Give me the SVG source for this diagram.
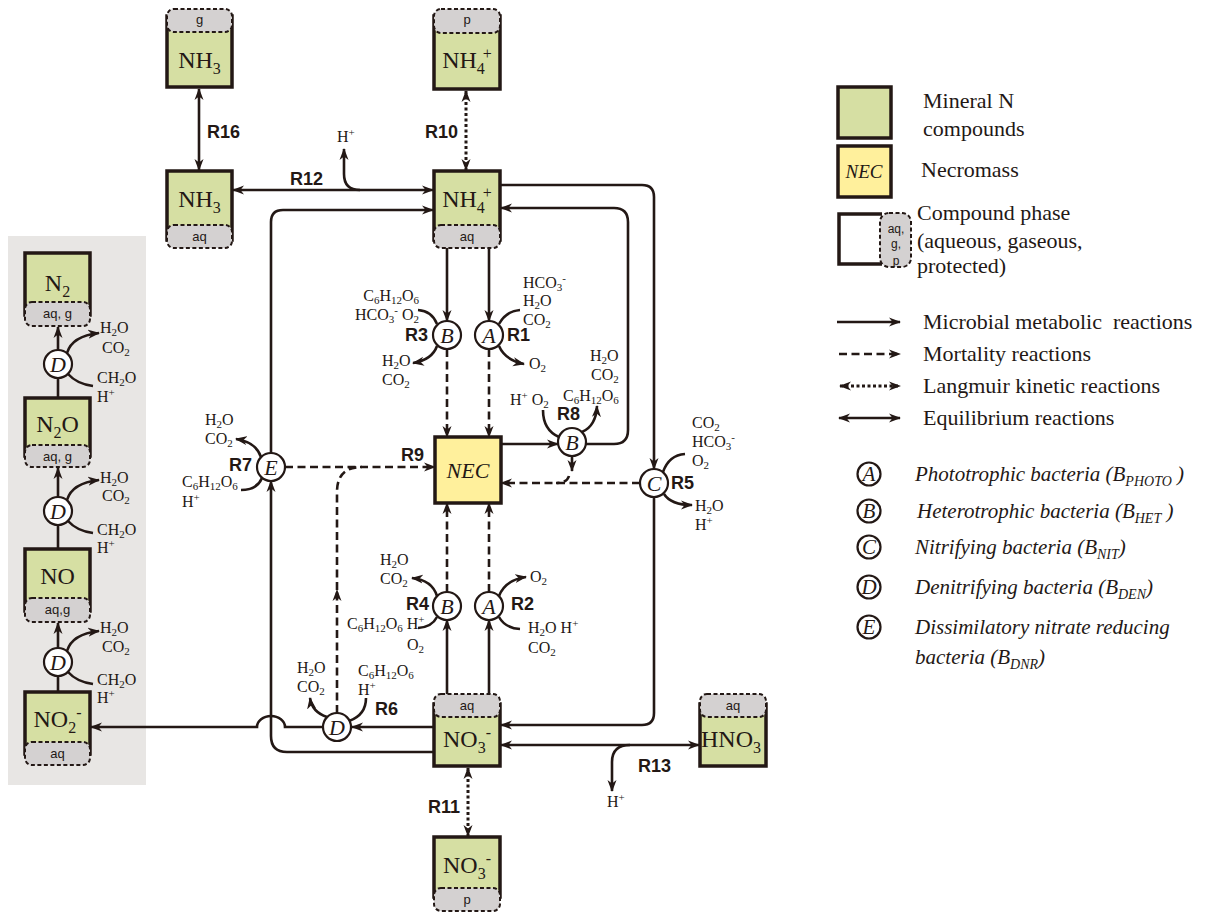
<svg xmlns="http://www.w3.org/2000/svg" width="1211" height="913" viewBox="0 0 1211 913">
<defs>
<style>
.ln{fill:none;stroke:#231815;stroke-width:2.6}
.ds{stroke-dasharray:8 4.5}
.dt{stroke-dasharray:3 2.5;stroke-width:3}
.bx{fill:#d6dfa3;stroke:#231815;stroke-width:3.5}
.nec{fill:#fff09c;stroke:#231815;stroke-width:3.5}
.tab{fill:#d4d1d1;stroke:#231815;stroke-width:2;stroke-dasharray:4 2.5}
.ci{fill:#fff;stroke:#231815;stroke-width:2.2}
text{fill:#231815}
.c{font-family:"Liberation Serif","Times New Roman",serif;font-size:16px}
.cs{font-size:11px;baseline-shift:-3px}
.cp{font-size:11px;baseline-shift:6px}
.b{font-family:"Liberation Serif","Times New Roman",serif;font-size:24px;text-anchor:middle}
.bs{font-size:16px;baseline-shift:-6px}
.bp{font-size:16px;baseline-shift:9px}
.t{font-family:"Liberation Sans",Arial,sans-serif;font-size:13px;text-anchor:middle}
.r{font-family:"Liberation Sans",Arial,sans-serif;font-size:18px;font-weight:bold}
.cl{font-family:"Liberation Serif","Times New Roman",serif;font-style:italic;font-size:22px;text-anchor:middle}
.lg{font-family:"Liberation Serif","Times New Roman",serif;font-size:22px}
.li{font-family:"Liberation Serif","Times New Roman",serif;font-size:21px;font-style:italic}
.ls{font-size:14px;baseline-shift:-5px}
.lc{font-family:"Liberation Serif","Times New Roman",serif;font-style:italic;font-size:21px;text-anchor:middle}
</style>
<marker id="ah" viewBox="0 0 12 10" refX="11" refY="5" markerWidth="12" markerHeight="10" markerUnits="userSpaceOnUse" orient="auto-start-reverse">
<path d="M0,0.5 L12,5 L0,9.5 L3.5,5 z" fill="#231815"/>
</marker>
<clipPath id="tabclip"><rect x="880" y="213" width="31" height="54" rx="9"/></clipPath>
</defs>

<rect id="panel" x="8" y="236" width="138" height="549" fill="#e8e6e4"/>

<g id="connectors">
<path class="ln" marker-end="url(#ah)" d="M447,248 V321"/>
<path class="ln" marker-end="url(#ah)" d="M489,248 V321"/>
<path class="ln" marker-end="url(#ah)" d="M447,694 V620"/>
<path class="ln" marker-end="url(#ah)" d="M489,694 V620"/>
<path class="ln" marker-end="url(#ah)" d="M500,185 H642 Q654,185 654,197 V469"/>
<path class="ln" marker-end="url(#ah)" d="M654,497 V713 Q654,725 642,725 H501"/>
<path class="ln" marker-end="url(#ah)" d="M501,444 H558"/>
<path class="ln" marker-end="url(#ah)" d="M586,444 H614 Q628,444 628,430 V222 Q628,208 614,208 H501"/>
<path class="ln" marker-end="url(#ah)" d="M271,453 V222 Q271,210 283,210 H433"/>
<path class="ln" marker-end="url(#ah)" d="M434,752 H287 Q271,752 271,736 V481"/>
<path class="ln" marker-end="url(#ah)" d="M434,727 H352"/>
<path class="ln" marker-end="url(#ah)" d="M323,727 H285 A14,11 0 0 0 257,727 H91"/>
<path class="ln" marker-end="url(#ah)" d="M58,350 V327"/>
<path class="ln" marker-end="url(#ah)" d="M58,497 V468"/>
<path class="ln" marker-end="url(#ah)" d="M58,648 V623"/>
<path class="ln" d="M58,398 V378"/>
<path class="ln" d="M58,549 V525"/>
<path class="ln" d="M58,692 V676"/>
<path class="ln" marker-end="url(#ah)" d="M360,190 Q344,190 344,174 V149"/>
<path class="ln" marker-end="url(#ah)" d="M630,745 Q612,745 612,762 V791"/>
<path class="ln" marker-start="url(#ah)" marker-end="url(#ah)" d="M199,89 V170"/>
<path class="ln" marker-start="url(#ah)" marker-end="url(#ah)" d="M233,190 H433"/>
<path class="ln" marker-start="url(#ah)" marker-end="url(#ah)" d="M501,745 H699"/>
<path class="ln dt" marker-start="url(#ah)" marker-end="url(#ah)" d="M466,91 V170"/>
<path class="ln dt" marker-start="url(#ah)" marker-end="url(#ah)" d="M468,768 V836"/>
<path class="ln ds" marker-end="url(#ah)" d="M447,349 V437"/>
<path class="ln ds" marker-end="url(#ah)" d="M489,349 V437"/>
<path class="ln ds" marker-end="url(#ah)" d="M447,592 V503"/>
<path class="ln ds" marker-end="url(#ah)" d="M489,592 V503"/>
<path class="ln ds" marker-end="url(#ah)" d="M285,467 H435"/>
<path class="ln ds" marker-end="url(#ah)" d="M337,713 V590"/>
<path class="ln ds" d="M337,590 V492 Q337,467 362,467"/>
<path class="ln ds" marker-end="url(#ah)" d="M640,483 H501"/>
<path class="ln ds" marker-end="url(#ah)" d="M572,456 V471"/>
<path class="ln ds" d="M569,476 Q567,483 556,483"/>
<path class="ln" marker-end="url(#ah)" d="M437,346 Q432,360 413,363"/>
<path class="ln" d="M418,310 Q432,311 437,324"/>
<path class="ln" marker-end="url(#ah)" d="M499,346 Q505,360 524,364"/>
<path class="ln" d="M520,310 Q506,311 499,324"/>
<path class="ln" d="M543,410 Q543,430 559,437"/>
<path class="ln" marker-end="url(#ah)" d="M582,432 Q596,426 597,406"/>
<path class="ln" d="M685,454 Q669,455 663,472"/>
<path class="ln" marker-end="url(#ah)" d="M664,494 Q671,505 692,505"/>
<path class="ln" marker-end="url(#ah)" d="M261,457 Q256,442 236,439"/>
<path class="ln" d="M241,490 Q257,490 262,478"/>
<path class="ln" marker-end="url(#ah)" d="M437,596 Q432,580 412,578"/>
<path class="ln" d="M418,628 Q432,627 437,617"/>
<path class="ln" marker-end="url(#ah)" d="M499,596 Q505,580 526,577"/>
<path class="ln" d="M520,629 Q505,628 499,617"/>
<path class="ln" marker-end="url(#ah)" d="M327,717 Q312,712 310,698"/>
<path class="ln" d="M366,698 Q366,715 349,721"/>
<path class="ln" marker-end="url(#ah)" d="M67,353 Q72,336 99,333"/>
<path class="ln" d="M93,386 Q77,384 68,374"/>
<path class="ln" marker-end="url(#ah)" d="M67,500 Q72,483 99,480"/>
<path class="ln" d="M93,533 Q77,531 68,521"/>
<path class="ln" marker-end="url(#ah)" d="M67,651 Q72,634 99,631"/>
<path class="ln" d="M93,684 Q77,682 68,672"/>
</g>

<g id="nh3-g"><rect class="bx" x="167" y="16" width="65" height="71"/><rect class="tab" x="167" y="9" width="65" height="23" rx="7"/><text class="t" x="199.5" y="24">g</text><text class="b" x="199.5" y="68">NH<tspan class="bs">3</tspan></text></g>
<g id="nh4-p"><rect class="bx" x="434" y="16" width="66" height="73"/><rect class="tab" x="434" y="9" width="66" height="24" rx="7"/><text class="t" x="467" y="24">p</text><text class="b" x="467" y="68">NH<tspan class="bs">4</tspan><tspan class="bp" dx="-2">+</tspan></text></g>
<g id="nh3-aq"><rect class="bx" x="167" y="171" width="65" height="69"/><rect class="tab" x="167" y="225" width="65" height="23" rx="7"/><text class="t" x="199.5" y="241">aq</text><text class="b" x="199.5" y="207">NH<tspan class="bs">3</tspan></text></g>
<g id="nh4-aq"><rect class="bx" x="434" y="171" width="66" height="69"/><rect class="tab" x="434" y="225" width="66" height="23" rx="7"/><text class="t" x="467" y="241">aq</text><text class="b" x="467" y="207">NH<tspan class="bs">4</tspan><tspan class="bp" dx="-2">+</tspan></text></g>
<g id="nec"><rect class="nec" x="435" y="437" width="66" height="66"/><text class="cl" x="468" y="478">NEC</text></g>
<g id="no3-aq"><rect class="bx" x="434" y="704" width="66" height="62"/><rect class="tab" x="434" y="694" width="66" height="23" rx="7"/><text class="t" x="467" y="710">aq</text><text class="b" x="467" y="747">NO<tspan class="bs">3</tspan><tspan class="bp">-</tspan></text></g>
<g id="no3-p"><rect class="bx" x="434" y="837" width="66" height="60"/><rect class="tab" x="434" y="888" width="66" height="23" rx="7"/><text class="t" x="467" y="904">p</text><text class="b" x="467" y="873">NO<tspan class="bs">3</tspan><tspan class="bp">-</tspan></text></g>
<g id="hno3"><rect class="bx" x="700" y="704" width="66" height="62"/><rect class="tab" x="700" y="694" width="66" height="23" rx="7"/><text class="t" x="733" y="710">aq</text><text class="b" x="731" y="747">HNO<tspan class="bs">3</tspan></text></g>

<g id="n2"><rect class="bx" x="25" y="253" width="65" height="62"/><rect class="tab" x="25" y="302" width="65" height="24" rx="7"/><text class="t" x="57.5" y="318">aq, g</text><text class="b" x="57.5" y="291">N<tspan class="bs">2</tspan></text></g>
<g id="n2o"><rect class="bx" x="25" y="398" width="65" height="58"/><rect class="tab" x="25" y="445" width="65" height="22" rx="7"/><text class="t" x="57.5" y="461">aq, g</text><text class="b" x="57.5" y="432">N<tspan class="bs">2</tspan>O</text></g>
<g id="no"><rect class="bx" x="25" y="549" width="65" height="62"/><rect class="tab" x="25" y="598" width="65" height="24" rx="7"/><text class="t" x="57.5" y="614">aq,g</text><text class="b" x="57.5" y="584">NO</text></g>
<g id="no2"><rect class="bx" x="25" y="692" width="65" height="62"/><rect class="tab" x="25" y="742" width="65" height="23" rx="7"/><text class="t" x="57.5" y="758">aq</text><text class="b" x="57.5" y="727">NO<tspan class="bs">2</tspan><tspan class="bp">-</tspan></text></g>

<g id="r3-b"><circle class="ci" cx="447" cy="335" r="14"/><text class="cl" x="447" y="343">B</text></g>
<g id="r1-a"><circle class="ci" cx="489" cy="335" r="14"/><text class="cl" x="489" y="343">A</text></g>
<g id="r8-b"><circle class="ci" cx="572" cy="442" r="14"/><text class="cl" x="572" y="450">B</text></g>
<g id="r5-c"><circle class="ci" cx="654" cy="483" r="14"/><text class="cl" x="654" y="491">C</text></g>
<g id="r7-e"><circle class="ci" cx="271" cy="467" r="14"/><text class="cl" x="271" y="475">E</text></g>
<g id="r4-b"><circle class="ci" cx="447" cy="606" r="14"/><text class="cl" x="447" y="614">B</text></g>
<g id="r2-a"><circle class="ci" cx="489" cy="606" r="14"/><text class="cl" x="489" y="614">A</text></g>
<g id="r6-d"><circle class="ci" cx="337" cy="727" r="14"/><text class="cl" x="337" y="735">D</text></g>
<g id="d1"><circle class="ci" cx="58" cy="364" r="14"/><text class="cl" x="58" y="372">D</text></g>
<g id="d2"><circle class="ci" cx="58" cy="511" r="14"/><text class="cl" x="58" y="519">D</text></g>
<g id="d3"><circle class="ci" cx="58" cy="662" r="14"/><text class="cl" x="58" y="670">D</text></g>

<g id="labels">
<text class="r" x="207" y="138">R16</text>
<text class="r" x="290" y="185">R12</text>
<text class="r" x="458" y="138" text-anchor="end">R10</text>
<text class="r" x="428" y="341" text-anchor="end">R3</text>
<text class="r" x="507" y="341">R1</text>
<text class="r" x="557" y="420">R8</text>
<text class="r" x="671" y="489">R5</text>
<text class="r" x="252" y="471" text-anchor="end">R7</text>
<text class="r" x="401" y="461">R9</text>
<text class="r" x="429" y="610" text-anchor="end">R4</text>
<text class="r" x="511" y="610">R2</text>
<text class="r" x="375" y="715">R6</text>
<text class="r" x="638" y="772">R13</text>
<text class="r" x="460" y="813" text-anchor="end">R11</text>
</g>

<g id="chem">
<text class="c" x="337" y="142">H<tspan class="cp">+</tspan></text>
<text class="c" x="607" y="807">H<tspan class="cp">+</tspan></text>
<text class="c" x="419" y="301" text-anchor="end">C<tspan class="cs">6</tspan>H<tspan class="cs">12</tspan>O<tspan class="cs">6</tspan></text>
<text class="c" x="419" y="320" text-anchor="end">HCO<tspan class="cs">3</tspan><tspan class="cp">-</tspan> O<tspan class="cs">2</tspan></text>
<text class="c" x="382" y="366">H<tspan class="cs">2</tspan>O</text>
<text class="c" x="382" y="385">CO<tspan class="cs">2</tspan></text>
<text class="c" x="523" y="288">HCO<tspan class="cs">3</tspan><tspan class="cp">-</tspan></text>
<text class="c" x="523" y="306">H<tspan class="cs">2</tspan>O</text>
<text class="c" x="523" y="325">CO<tspan class="cs">2</tspan></text>
<text class="c" x="529" y="369">O<tspan class="cs">2</tspan></text>
<text class="c" x="590" y="361">H<tspan class="cs">2</tspan>O</text>
<text class="c" x="591" y="380">CO<tspan class="cs">2</tspan></text>
<text class="c" x="563" y="401">C<tspan class="cs">6</tspan>H<tspan class="cs">12</tspan>O<tspan class="cs">6</tspan></text>
<text class="c" x="510" y="405">H<tspan class="cp">+</tspan> O<tspan class="cs">2</tspan></text>
<text class="c" x="692" y="428">CO<tspan class="cs">2</tspan></text>
<text class="c" x="692" y="447">HCO<tspan class="cs">3</tspan><tspan class="cp">-</tspan></text>
<text class="c" x="692" y="466">O<tspan class="cs">2</tspan></text>
<text class="c" x="695" y="511">H<tspan class="cs">2</tspan>O</text>
<text class="c" x="695" y="530">H<tspan class="cp">+</tspan></text>
<text class="c" x="205" y="425">H<tspan class="cs">2</tspan>O</text>
<text class="c" x="205" y="444">CO<tspan class="cs">2</tspan></text>
<text class="c" x="182" y="487">C<tspan class="cs">6</tspan>H<tspan class="cs">12</tspan>O<tspan class="cs">6</tspan></text>
<text class="c" x="182" y="507">H<tspan class="cp">+</tspan></text>
<text class="c" x="380" y="565">H<tspan class="cs">2</tspan>O</text>
<text class="c" x="380" y="584">CO<tspan class="cs">2</tspan></text>
<text class="c" x="347" y="629">C<tspan class="cs">6</tspan>H<tspan class="cs">12</tspan>O<tspan class="cs">6</tspan> H<tspan class="cp">+</tspan></text>
<text class="c" x="407" y="650">O<tspan class="cs">2</tspan></text>
<text class="c" x="530" y="582">O<tspan class="cs">2</tspan></text>
<text class="c" x="528" y="633">H<tspan class="cs">2</tspan>O H<tspan class="cp">+</tspan></text>
<text class="c" x="528" y="653">CO<tspan class="cs">2</tspan></text>
<text class="c" x="297" y="673">H<tspan class="cs">2</tspan>O</text>
<text class="c" x="297" y="692">CO<tspan class="cs">2</tspan></text>
<text class="c" x="358" y="676">C<tspan class="cs">6</tspan>H<tspan class="cs">12</tspan>O<tspan class="cs">6</tspan></text>
<text class="c" x="358" y="695">H<tspan class="cp">+</tspan></text>
<text class="c" x="100" y="333">H<tspan class="cs">2</tspan>O</text>
<text class="c" x="102" y="353">CO<tspan class="cs">2</tspan></text>
<text class="c" x="97" y="383">CH<tspan class="cs">2</tspan>O</text>
<text class="c" x="97" y="402">H<tspan class="cp">+</tspan></text>
<text class="c" x="100" y="483">H<tspan class="cs">2</tspan>O</text>
<text class="c" x="102" y="501">CO<tspan class="cs">2</tspan></text>
<text class="c" x="97" y="535">CH<tspan class="cs">2</tspan>O</text>
<text class="c" x="97" y="553">H<tspan class="cp">+</tspan></text>
<text class="c" x="100" y="633">H<tspan class="cs">2</tspan>O</text>
<text class="c" x="102" y="652">CO<tspan class="cs">2</tspan></text>
<text class="c" x="97" y="685">CH<tspan class="cs">2</tspan>O</text>
<text class="c" x="97" y="703">H<tspan class="cp">+</tspan></text>
</g>

<g id="legend">
<rect class="bx" x="838" y="87" width="53" height="51"/>
<rect class="nec" x="838" y="146" width="53" height="51"/>
<text x="864" y="178" style="font-family:'Liberation Serif',serif;font-style:italic;font-size:19px;text-anchor:middle">NEC</text>
<path d="M882,214 H839 V264 H882" fill="#fff" stroke="#231815" stroke-width="3.5"/>
<rect class="tab" x="880" y="213" width="31" height="54" rx="9"/>
<g clip-path="url(#tabclip)">
<text class="t" x="896" y="233" style="font-size:12px">aq,</text>
<text class="t" x="896" y="248" style="font-size:12px">g,</text>
<text class="t" x="896" y="265" style="font-size:12px">p</text>
</g>
<text class="lg" x="923" y="108">Mineral N</text>
<text class="lg" x="923" y="136">compounds</text>
<text class="lg" x="921" y="177">Necromass</text>
<text class="lg" x="917" y="220">Compound phase</text>
<text class="lg" x="917" y="248">(aqueous, gaseous,</text>
<text class="lg" x="917" y="273">protected)</text>
<path class="ln" marker-end="url(#ah)" d="M837,322 H900"/>
<path class="ln ds" marker-end="url(#ah)" d="M839,354 H900"/>
<path class="ln dt" marker-start="url(#ah)" marker-end="url(#ah)" d="M840,386 H900"/>
<path class="ln" marker-start="url(#ah)" marker-end="url(#ah)" d="M839,418 H900"/>
<text class="lg" x="923" y="329" style="white-space:pre">Microbial metabolic  reactions</text>
<text class="lg" x="923" y="361">Mortality reactions</text>
<text class="lg" x="923" y="393">Langmuir kinetic reactions</text>
<text class="lg" x="923" y="425">Equilibrium reactions</text>
<circle class="ci" cx="869" cy="474" r="11.5"/><text class="lc" x="869" y="481">A</text>
<circle class="ci" cx="869" cy="511" r="11.5"/><text class="lc" x="869" y="518">B</text>
<circle class="ci" cx="869" cy="547" r="11.5"/><text class="lc" x="869" y="554">C</text>
<circle class="ci" cx="869" cy="587" r="11.5"/><text class="lc" x="869" y="594">D</text>
<circle class="ci" cx="869" cy="627" r="11.5"/><text class="lc" x="869" y="634">E</text>
<text class="li" x="915" y="481">Phototrophic bacteria (B<tspan class="ls">PHOTO</tspan> )</text>
<text class="li" x="917" y="518">Heterotrophic bacteria (B<tspan class="ls">HET</tspan> )</text>
<text class="li" x="915" y="554">Nitrifying bacteria (B<tspan class="ls">NIT</tspan>)</text>
<text class="li" x="915" y="594">Denitrifying bacteria (B<tspan class="ls">DEN</tspan>)</text>
<text class="li" x="915" y="634">Dissimilatory nitrate reducing</text>
<text class="li" x="915" y="664">bacteria (B<tspan class="ls">DNR</tspan>)</text>
</g>
</svg>
